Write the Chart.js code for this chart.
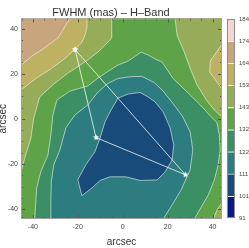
<!DOCTYPE html>
<html>
<head>
<meta charset="utf-8">
<script src="https://cdn.jsdelivr.net/npm/chart.js@4.4.1/dist/chart.umd.min.js"></script>
<style>
  html, body { margin: 0; padding: 0; background: #fff; }
  #wrap { position: relative; width: 249px; height: 248px; }
  #main { position: absolute; left: 0; top: 0; }
  #bar { position: absolute; left: 222px; top: 0; }
</style>
</head>
<body>
<div id="wrap">
  <canvas id="main" width="249" height="248"></canvas>
  <canvas id="bar" width="27" height="248"></canvas>
</div>
<script>
// contour levels (colour bar) and their printed labels
const levels = [91, 101.3, 111.7, 122, 132.3, 142.7, 153, 163.3, 173.7, 184];
const levelLabels = ['91', '101', '111', '122', '132', '143', '153', '164', '174', '184'];
const bandColors = ['#0a197d', '#194b7a', '#2d7d80', '#3c8f64', '#5ea348', '#96ac58', '#beb262', '#c8a57d', '#f0d7d2'];

const xTicks = [-40, -20, 0, 20, 40];
const yTicks = [-40, -20, 0, 20, 40];

// star positions (arcsec)
const starX = [-21.2, -11.9, 27.9];
const starY = [30.7, -8.3, -24.8];

// regions where FWHM is below a level, [x, y] in arcsec (points past +-45 close the shape outside the frame)
const below174 = [[-60, -60], [60, -60], [60, 60], [-60, 60]];
const below164 = [[-60, 15], [-45.3, 23.8], [-40.5, 27.8], [-35.6, 30.9], [-32.0, 33.6], [-28.9, 35.8], [-26.7, 39.3],
  [-24.9, 42.4], [-23.5, 44.5], [-22, 60], [60, 60], [60, -60], [-60, -60]];
const below153 = [[-60, 5], [-45.3, 12.8], [-38.7, 17.9], [-31.8, 22.3], [-25.8, 26.7], [-21.7, 30.5], [-18.4, 33.6],
  [-16.8, 37.1], [-15.9, 40.7], [-15.9, 44.5], [-15.9, 60], [60, 60], [60, 36], [44.2, 33.1], [39.0, 25.6],
  [38.75, 20.75], [44.2, 13.2], [60, 8], [60, -60], [-60, -60]];
const below143 = [[-60, -28], [-45.3, -23.5], [-43.6, -17.3], [-40.9, -8.5], [-39.6, 0.4], [-37.0, 9.7], [-30.7, 15.4],
  [-24.4, 20.3], [-16.8, 25.2], [-11.0, 29.6], [-4.9, 35.7], [-4.9, 44.5], [-4.9, 60], [23.3, 60], [23.3, 44.5],
  [24.2, 37.1], [27.4, 29.6], [30.0, 22.5], [33.1, 15.0], [37.2, 8.4], [40.8, 3.9], [44.2, 0.8], [60, -5], [60, -34],
  [44.2, -37.2], [42.1, -40.2], [40.3, -44.4], [39, -60], [-60, -60]];
const below132 = [[-39.5, -60], [-39.2, -44.4], [-38.3, -30.6], [-36.5, -23.5], [-33.3, -16.0], [-32.0, -7.1],
  [-31.1, 1.7], [-29.3, 8.4], [-23.5, 12.3], [-15.5, 14.6], [-11.0, 18.1], [-5.7, 21.6], [-2.1, 23.9], [2.4, 25.6],
  [8.2, 29.6], [11.3, 28.3], [14.4, 26.5], [17.5, 25.2], [22.4, 17.9], [28.7, 11.9], [34.5, 6.2], [39.0, 1.3],
  [42.0, -1.8], [43.0, -7.1], [43.4, -13.8], [42.5, -20.4], [40.8, -27.0], [38.1, -33.7], [35.0, -39.0],
  [31.9, -44.4], [31.5, -60]];
const below122 = [[-32, -60], [-32.0, -44.4], [-32.0, -35.9], [-31.8, -27.9], [-30.7, -20.4], [-28.0, -13.8],
  [-25.3, -4.0], [-21.3, 1.7], [-15.5, 6.2], [-11.0, 11.9], [-6.6, 15.7], [-2.1, 17.9], [3.7, 18.7], [8.6, 18.8],
  [14.0, 16.1], [18.0, 12.3], [22.5, 6.6], [26.5, 1.3], [30.0, -5.8], [31.2, -13.8], [30.0, -22.6], [26.0, -31.5],
  [22.0, -38.1], [18.0, -44.4], [17, -60]];
const below111 = [[-2.1, 9.2], [2.4, 11.0], [7.7, 11.7], [11.3, 9.7], [14.4, 7.5], [18.0, 3.1], [21.1, -4.0],
  [22.7, -11.5], [22.0, -18.2], [18.9, -23.5], [15.3, -27.1], [7.7, -27.3], [1.5, -25.7], [-5.7, -25.7],
  [-10.1, -27.3], [-13.7, -30.6], [-18.2, -34.1], [-20.0, -27.0], [-16.4, -20.4], [-12.4, -14.6], [-10.1, -8.5],
  [-7.9, -1.4], [-5.2, 3.9], [-2.1, 9.2]];

Chart.defaults.font.family = "'Liberation Sans', Arial, sans-serif";

function makeStar(r) {
    const c = document.createElement('canvas');
    const s = Math.ceil(r * 2) + 2;
    c.width = s;
    c.height = s;
    const g = c.getContext('2d');
    g.fillStyle = '#fff';
    g.beginPath();
    for (let i = 0; i < 10; i++) {
        const a = -Math.PI / 2 + i * Math.PI / 5;
        const rr = i % 2 ? r * 0.45 : r;
        g.lineTo(s / 2 + rr * Math.cos(a), s / 2 + rr * Math.sin(a));
    }
    g.closePath();
    g.fill();
    return c;
}

// frame + inward ticks on all four sides
const frameTicks = {
    id: 'frameTicks',
    afterDatasetsDraw(chart) {
        const {ctx, chartArea: a, scales: {x, y}} = chart;
        ctx.save();
        ctx.strokeStyle = '#555';
        ctx.lineWidth = 1;
        ctx.beginPath();
        for (let v = -45; v <= 45; v += 5) {
            const px = Math.round(x.getPixelForValue(v)) + 0.5;
            const lx = xTicks.includes(v) ? 4 : 2;
            if (px > a.left + 1 && px < a.right - 1) {
                ctx.moveTo(px, a.top); ctx.lineTo(px, a.top + lx);
                ctx.moveTo(px, a.bottom); ctx.lineTo(px, a.bottom - lx);
            }
            const py = Math.round(y.getPixelForValue(v)) + 0.5;
            const ly = yTicks.includes(v) ? 4 : 2;
            if (py > a.top + 1 && py < a.bottom - 1) {
                ctx.moveTo(a.left, py); ctx.lineTo(a.left + ly, py);
                ctx.moveTo(a.right, py); ctx.lineTo(a.right - ly, py);
            }
        }
        ctx.stroke();
        ctx.strokeStyle = '#a0a0a0';
        ctx.strokeRect(a.left + 0.5, a.top + 0.5, a.width - 1, a.height - 1);
        ctx.restore();
    }
};

const boxFrame = {
    id: 'boxFrame',
    afterDatasetsDraw(chart) {
        const {ctx, chartArea: a} = chart;
        ctx.save();
        ctx.strokeStyle = '#8c8c8c';
        ctx.lineWidth = 1;
        ctx.strokeRect(Math.round(a.left) + 0.5, Math.round(a.top) + 0.5, Math.round(a.width) - 1, Math.round(a.height) - 1);
        ctx.restore();
    }
};

const toXY = pts => pts.map(p => ({x: p[0], y: p[1]}));

const regions = [below111, below122, below132, below143, below153, below164, below174];
const regionSets = regions.map((pts, i) => ({
    data: toXY(pts),
    fill: 'shape',
    backgroundColor: bandColors[i + 1],
    borderColor: 'rgba(255,255,255,0.55)',
    borderWidth: i === regions.length - 1 ? 0 : 1,
    pointRadius: 0
}));

const starPts = starX.map((x, i) => ({x: x, y: starY[i]}));
starPts.push(starPts[0]);

const triangle = {
    data: starPts,
    fill: false,
    borderColor: 'rgba(255,255,255,0.75)',
    borderWidth: 1,
    pointStyle: makeStar(3.2),
    pointRadius: 3
};

new Chart(document.getElementById('main'), {
    type: 'line',
    data: { datasets: [triangle].concat(regionSets) },
    options: {
        responsive: false,
        animation: false,
        events: [],
        layout: { padding: { right: 27 } },
        plugins: {
            legend: { display: false },
            tooltip: { enabled: false },
            title: {
                display: true,
                text: 'FWHM (mas) \u2013 H\u2013Band',
                color: '#333',
                font: { size: 11, weight: 'normal', lineHeight: 0.95 },
                padding: { top: 8, bottom: 0 }
            }
        },
        scales: {
            x: {
                type: 'linear',
                min: -45.3,
                max: 44.2,
                grid: { display: false, drawTicks: false },
                border: { display: false },
                afterBuildTicks: s => { s.ticks = xTicks.map(v => ({value: v})); },
                afterFit: s => { s.height = 29; },
                ticks: { color: '#444', font: { size: 7 }, padding: 4, maxRotation: 0 },
                title: { display: true, text: 'arcsec', color: '#333', font: { size: 10, lineHeight: 1 }, padding: { top: 0, bottom: 1 } }
            },
            y: {
                min: -44.4,
                max: 44.5,
                grid: { display: false, drawTicks: false },
                border: { display: false },
                afterBuildTicks: s => { s.ticks = yTicks.map(v => ({value: v})); },
                afterFit: s => { s.width = 21; },
                ticks: { color: '#444', font: { size: 7 }, padding: 3 },
                title: { display: true, text: 'arcsec', color: '#333', font: { size: 10, lineHeight: 0.6 }, padding: 0 }
            }
        }
    },
    plugins: [frameTicks]
});

// colour bar
new Chart(document.getElementById('bar'), {
    type: 'bar',
    data: {
        labels: [''],
        datasets: bandColors.map((c, i) => ({
            data: [[levels[i], levels[i + 1]]],
            backgroundColor: c,
            borderColor: 'rgba(255,255,255,0.7)',
            borderWidth: { top: 1, right: 0, bottom: 0, left: 0 },
            borderSkipped: false,
            grouped: false,
            barPercentage: 1,
            categoryPercentage: 1
        }))
    },
    options: {
        responsive: false,
        animation: false,
        events: [],
        layout: { padding: { left: 4.7, top: 19, bottom: 29.7, right: 0 } },
        plugins: { legend: { display: false }, tooltip: { enabled: false } },
        scales: {
            x: { display: false },
            y: {
                position: 'right',
                min: levels[0],
                max: levels[levels.length - 1],
                grid: { display: false, drawTicks: false },
                border: { display: false },
                afterBuildTicks: s => { s.ticks = levels.map(v => ({value: v})); },
                afterFit: s => { s.width = 14; },
                ticks: { color: '#444', font: { size: 6 }, padding: 4, autoSkip: false, callback: (v, i) => levelLabels[i] }
            }
        }
    },
    plugins: [boxFrame]
});
</script>
</body>
</html>
